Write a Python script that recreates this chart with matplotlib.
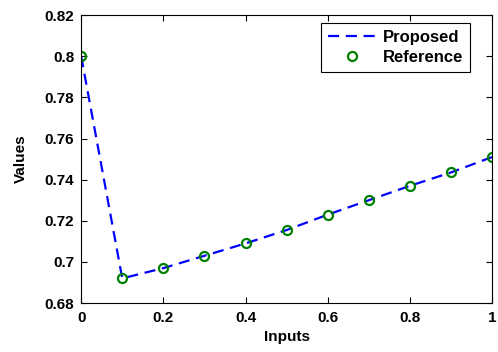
import numpy as np
import matplotlib
matplotlib.use("Agg")
import matplotlib.pyplot as plt

# data
inputs = [0.0, 0.1, 0.2, 0.3, 0.4, 0.5, 0.6, 0.7, 0.8, 0.9, 1.0]
proposed = [0.800, 0.692, 0.697, 0.703, 0.709, 0.7155, 0.723, 0.730, 0.737, 0.7435, 0.751]
reference = [0.800, 0.692, 0.697, 0.703, 0.709, 0.7155, 0.723, 0.730, 0.737, 0.7435, 0.751]

plt.rcParams['font.family'] = ['Liberation Sans', 'DejaVu Sans']
plt.rcParams['font.weight'] = 'bold'

fig = plt.figure(figsize=(4.98, 3.52), dpi=100)
ax = fig.add_axes([0.163, 0.139, 0.825, 0.818])

ax.plot(inputs, proposed, '--', color='blue', linewidth=1.6, dashes=(5, 3), label='Proposed')
ax.plot(inputs, reference, 'o', color='green', markerfacecolor='none', markersize=6.5,
        markeredgewidth=1.6, linestyle='none', label='Reference')

ax.set_xlim(0, 1)
ax.set_ylim(0.68, 0.82)
ax.set_xticks([0, 0.2, 0.4, 0.6, 0.8, 1])
ax.set_xticklabels(['0', '0.2', '0.4', '0.6', '0.8', '1'])
ax.set_yticks(np.arange(0.68, 0.8201, 0.02))
ax.set_yticklabels(['0.68', '0.7', '0.72', '0.74', '0.76', '0.78', '0.8', '0.82'])
ax.tick_params(direction='in', top=True, right=True, labelsize=11, length=4)
ax.tick_params(axis='x', pad=6)
ax.tick_params(axis='y', pad=5)
for lab in ax.get_xticklabels() + ax.get_yticklabels():
    lab.set_fontweight('bold')

ax.set_xlabel('Inputs', fontsize=11, fontweight='bold', labelpad=3)
ax.set_ylabel('Values', fontsize=11, fontweight='bold', labelpad=12)

leg = ax.legend(loc='upper right', bbox_to_anchor=(0.946, 0.972), borderaxespad=0,
                fontsize=12, fancybox=False, edgecolor='black', framealpha=1,
                handlelength=2.9, handletextpad=0.4, borderpad=0.4, labelspacing=0.3)
leg.get_frame().set_linewidth(0.8)

fig.savefig('out.png', dpi=100)
